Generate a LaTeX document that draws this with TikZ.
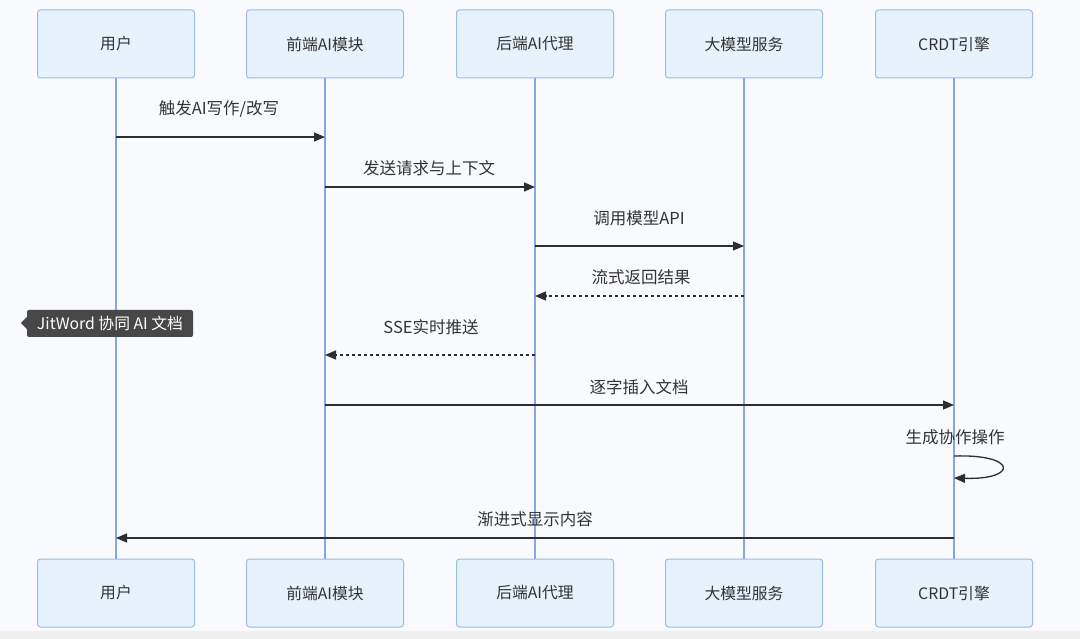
\documentclass[tikz,border=0pt]{standalone}
\usepackage{fontspec}
\setmainfont{Noto Sans CJK SC}
\usetikzlibrary{arrows.meta}
\definecolor{bgcol}{HTML}{F8FAFD}
\definecolor{boxfill}{HTML}{E6F2FC}
\definecolor{boxline}{HTML}{9DBCE8}
\definecolor{lifecol}{HTML}{86A8E0}
\definecolor{msgcol}{HTML}{2E2E2E}
\definecolor{tipcol}{HTML}{474747}

\begin{document}
\begin{tikzpicture}[x=1pt,y=-1pt,
    actor/.style={rectangle, rounded corners=3pt, draw=boxline, fill=boxfill,
        line width=1pt, minimum width=157pt, minimum height=68pt,
        font=\fontsize{15.8}{18}\selectfont, text=black!80},
    lifeline/.style={draw=lifecol, line width=2pt},
    msg/.style={draw=msgcol, line width=1.3pt, -{Triangle[length=11pt,width=9pt]}},
    reply/.style={msg, dash pattern=on 3pt off 3pt},
    msglabel/.style={font=\fontsize{16.5}{19}\selectfont, text=black!80}]

    % Background
    \fill[bgcol] (0,0) rectangle (1080,639);
    \fill[black!6] (0,631) rectangle (1080,639);
    \useasboundingbox (0,0) rectangle (1080,639);

    % Draw participants (top)
    \node[actor] (userT) at (116,44) {用户};
    \node[actor] (frontT) at (325,44) {前端AI模块};
    \node[actor] (backT) at (535,44) {后端AI代理};
    \node[actor] (llmT) at (744,44) {大模型服务};
    \node[actor] (crdtT) at (954,44) {CRDT引擎};

    % Draw participants (bottom)
    \node[actor] (userB) at (116,593) {用户};
    \node[actor] (frontB) at (325,593) {前端AI模块};
    \node[actor] (backB) at (535,593) {后端AI代理};
    \node[actor] (llmB) at (744,593) {大模型服务};
    \node[actor] (crdtB) at (954,593) {CRDT引擎};

    % Draw lifelines
    \draw[lifeline] (userT) -- (userB);
    \draw[lifeline] (frontT) -- (frontB);
    \draw[lifeline] (backT) -- (backB);
    \draw[lifeline] (llmT) -- (llmB);
    \draw[lifeline] (crdtT) -- (crdtB);

    % Draw messages
    \draw[msg] (userT.south |- 0,137) -- (frontT.south |- 0,137);
    \node[msglabel] (l1) at (219,109) {触发AI写作/改写};

    \draw[msg] (frontT.south |- 0,187) -- (backT.south |- 0,187);
    \node[msglabel] (l2) at (429,168) {发送请求与上下文};

    \draw[msg] (backT.south |- 0,246) -- (llmT.south |- 0,246);
    \node[msglabel] (l3) at (639,218) {调用模型API};

    \draw[reply] (llmT.south |- 0,296) -- (backT.south |- 0,296);
    \node[msglabel] (l4) at (641,277) {流式返回结果};

    \draw[reply] (backT.south |- 0,355) -- (frontT.south |- 0,355);
    \node[msglabel] (l5) at (431,327) {SSE实时推送};

    \draw[msg] (frontT.south |- 0,405) -- (crdtT.south |- 0,405);
    \node[msglabel] (l6) at (639,387) {逐字插入文档};

    % Self call on CRDT
    \coordinate (selfA) at (crdtT.south |- 0,456);
    \coordinate (selfB) at (crdtT.south |- 0,478);
    \draw[msg] (selfA) .. controls (1018,454) and (1018,480) .. (selfB);
    \node[msglabel] (l7) at (955,437) {生成协作操作};

    \draw[msg] (crdtT.south |- 0,538) -- (userT.south |- 0,538);
    \node[msglabel] (l8) at (535,519) {渐进式显示内容};

    % Tooltip
    \node[fill=tipcol, rounded corners=2pt, text=white, minimum width=166pt,
        minimum height=27pt, inner sep=0pt, font=\fontsize{15.8}{18}\selectfont]
        (tip) at (110,323.5) {JitWord 协同 AI 文档};
    \fill[tipcol] (tip.west |- 0,317) -- (21,323) -- (tip.west |- 0,329) -- cycle;
\end{tikzpicture}
\end{document}
